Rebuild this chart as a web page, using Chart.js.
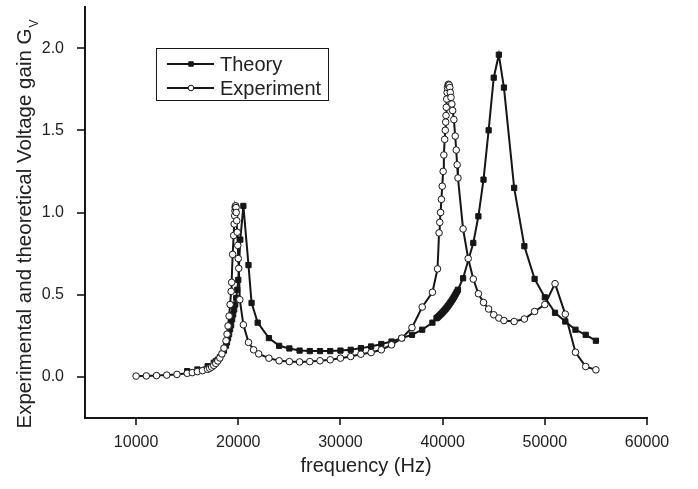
<!DOCTYPE html>
<html>
<head>
<meta charset="utf-8">
<script src="https://cdn.jsdelivr.net/npm/chart.js@4.4.0/dist/chart.umd.min.js"></script>
<style>
html,body{margin:0;padding:0;background:#fff;}
#wrap{width:698px;height:489px;}
</style>
</head>
<body>
<div id="wrap"><canvas id="c" width="698" height="489"></canvas></div>
<script>
// theory curve (filled squares)
const theoryFreq=[15000,16000,17000,17600,17800,18000,18200,18400,18600,18800,18900,19000,19100,19200,19300,19400,19500,19600,19700,19800,19900,20000,20200,20500,21000,21300,21900,
  23000,24000,25000,26000,27000,28000,29000,30000,31000,32000,33000,34000,35000,36000,37000,38000,39000,
  39400,39500,39600,39700,39800,39900,40000,40100,40200,40300,40400,40500,40600,40700,40800,40900,41000,41100,41200,41300,41400,41500,
  42000,43000,43500,44000,44500,45000,45500,46000,47000,48000,49000,50000,51000,52000,53000,54000,55000];
const theoryGain=[0.035,0.045,0.065,0.086,0.095,0.105,0.12,0.14,0.16,0.19,0.21,0.235,0.26,0.29,0.315,0.35,0.38,0.41,0.44,0.48,0.53,0.59,0.835,1.04,0.68,0.45,0.33,
  0.236,0.189,0.173,0.16,0.157,0.157,0.157,0.16,0.165,0.175,0.185,0.2,0.215,0.236,0.256,0.287,0.33,
  0.357,0.362,0.368,0.374,0.38,0.386,0.393,0.4,0.407,0.414,0.422,0.43,0.438,0.447,0.456,0.465,0.475,0.485,0.496,0.507,0.518,0.53,
  0.6,0.815,0.977,1.2,1.5,1.82,1.96,1.76,1.15,0.795,0.596,0.484,0.39,0.337,0.287,0.256,0.22];

// measured curve (open circles)
const expFreq=[10000,11000,12000,13000,14000,15000,15500,16000,16500,17000,17200,17400,17600,17800,18000,18200,18400,18600,18800,18900,19000,19100,19200,19300,19350,19450,19550,19600,19650,19680,19700,19720,19750,19780,19800,19850,19900,19950,20000,20050,20150,20500,
  21000,21500,22000,23000,24000,25000,26000,27000,28000,29000,30000,31000,32000,33000,34000,35000,36000,37000,38000,39000,
  39500,39650,39720,39800,39880,39960,40050,40120,40200,40260,40300,40330,40360,40400,40440,40480,40530,40580,40640,40700,40750,40820,40900,40980,41100,41230,41330,41420,41500,
  42000,42500,43000,43500,44000,44500,45000,45500,46000,47000,48000,49000,50000,51000,52000,53000,54000,55000];
const expGain=[0.005,0.006,0.008,0.011,0.015,0.022,0.026,0.032,0.038,0.046,0.052,0.06,0.07,0.082,0.097,0.115,0.14,0.175,0.22,0.26,0.31,0.37,0.44,0.52,0.575,0.745,0.86,0.93,0.98,1.01,1.03,1.04,1.04,1.03,1.0,0.95,0.88,0.8,0.72,0.66,0.47,0.317,
  0.21,0.165,0.14,0.114,0.098,0.093,0.091,0.093,0.098,0.104,0.114,0.124,0.138,0.148,0.165,0.195,0.236,0.3,0.425,0.515,
  0.657,0.876,0.94,1.0,1.08,1.16,1.25,1.35,1.445,1.5,1.55,1.59,1.64,1.69,1.73,1.76,1.775,1.78,1.775,1.76,1.73,1.7,1.66,1.62,1.565,1.465,1.38,1.29,1.21,
  0.9,0.72,0.595,0.506,0.453,0.413,0.378,0.358,0.343,0.337,0.352,0.398,0.44,0.567,0.382,0.15,0.063,0.043];

const xLabelValues=[10000,20000,30000,40000,50000,60000];
const yLabelValues=[0,0.5,1,1.5,2];

const ink='#161616';
const textInk='#222';
const fontFam='"Liberation Sans", Arial, sans-serif';

function toPoints(xs,ys){ return xs.map((x,i)=>({x:x,y:ys[i]})); }

// outward ticks: long at labelled values, short in between
const tickMarks={id:'tickMarks',afterDraw(chart){
  const {ctx,chartArea:a,scales:{x,y}}=chart;
  ctx.save(); ctx.strokeStyle=ink; ctx.lineWidth=1.6;
  x.ticks.forEach(t=>{
    const px=Math.round(x.getPixelForValue(t.value)); const len=t.label?7:4;
    ctx.beginPath(); ctx.moveTo(px,a.bottom); ctx.lineTo(px,a.bottom+len); ctx.stroke();
  });
  y.ticks.forEach(t=>{
    const py=Math.round(y.getPixelForValue(t.value)); const len=t.label?8:4;
    ctx.beginPath(); ctx.moveTo(a.left,py); ctx.lineTo(a.left-len,py); ctx.stroke();
  });
  ctx.restore();
}};

// y title with subscript V
const yTitle={id:'yTitle',afterDraw(chart){
  const {ctx,chartArea:a}=chart;
  const main='Experimental and theoretical Voltage gain G';
  ctx.save();
  ctx.translate(25,(a.top+a.bottom)/2+12);
  ctx.rotate(-Math.PI/2);
  ctx.fillStyle=textInk; ctx.textBaseline='middle'; ctx.textAlign='left';
  ctx.font='20.5px '+fontFam; const w1=ctx.measureText(main).width;
  ctx.font='12px '+fontFam; const w2=ctx.measureText('V').width;
  const start=-(w1+w2)/2;
  ctx.font='20.5px '+fontFam; ctx.fillText(main,start,0);
  ctx.font='12px '+fontFam; ctx.fillText('V',start+w1+1,10);
  ctx.restore();
}};

// boxed legend inside the plot, line-marker-line samples
const legendBox={id:'legendBox',afterDraw(chart){
  const {ctx,chartArea:a}=chart;
  const bx=a.left+71, by=a.top+41, bw=172, bh=52;
  ctx.save();
  ctx.fillStyle='#fff'; ctx.fillRect(bx,by,bw,bh);
  ctx.strokeStyle=ink; ctx.lineWidth=1; ctx.strokeRect(bx+0.5,by+0.5,bw,bh);
  const items=['Theory','Experiment'].map(l=>chart.data.datasets.find(d=>d.label===l));
  items.forEach((d,i)=>{
    const cy=by+16+i*24;
    ctx.strokeStyle=d.borderColor; ctx.lineWidth=d.borderWidth;
    ctx.beginPath(); ctx.moveTo(bx+11,cy); ctx.lineTo(bx+58,cy); ctx.stroke();
    ctx.fillStyle=d.pointBackgroundColor; ctx.strokeStyle=d.pointBorderColor; ctx.lineWidth=1;
    Chart.helpers.drawPoint(ctx,{pointStyle:d.pointStyle,radius:d.pointRadius*0.85,borderWidth:1,rotation:0},bx+35,cy);
    ctx.fillStyle=textInk; ctx.font='20px '+fontFam; ctx.textBaseline='middle'; ctx.textAlign='left';
    ctx.fillText(d.label,bx+64,cy+1);
  });
  ctx.restore();
}};

new Chart(document.getElementById('c'),{
  type:'scatter',
  data:{datasets:[
    {label:'Experiment',data:toPoints(expFreq,expGain),showLine:true,tension:0,
     borderColor:ink,borderWidth:2,pointStyle:'circle',pointRadius:3.3,pointBorderWidth:1,
     pointBackgroundColor:'#fff',pointBorderColor:ink},
    {label:'Theory',data:toPoints(theoryFreq,theoryGain),showLine:true,tension:0,
     borderColor:ink,borderWidth:2,pointStyle:'rect',pointRadius:3.7,pointBorderWidth:1,
     pointBackgroundColor:ink,pointBorderColor:ink}
  ]},
  options:{
    responsive:false,animation:false,devicePixelRatio:1,
    layout:{padding:{left:0,top:7,right:51,bottom:0},autoPadding:false},
    plugins:{legend:{display:false},tooltip:{enabled:false}},
    scales:{
      x:{type:'linear',position:'bottom',min:5000,max:60000,
        grid:{display:false},border:{display:true,color:ink,width:2},
        ticks:{stepSize:5000,maxTicksLimit:20,autoSkip:false,maxRotation:0,padding:6.5,color:textInk,
          font:{family:fontFam,size:16},
          callback:v=>xLabelValues.includes(v)?String(v):null},
        title:{display:true,text:'frequency (Hz)',color:textInk,font:{family:fontFam,size:20},padding:{top:0,bottom:11}},
        afterFit:s=>{s.height=71; s.paddingLeft=0; s.paddingRight=0;}},
      y:{type:'linear',position:'left',min:-0.25,max:2.25,
        grid:{display:false},border:{display:true,color:ink,width:2},
        ticks:{stepSize:0.25,maxTicksLimit:20,autoSkip:false,padding:13,color:textInk,
          font:{family:fontFam,size:16},
          callback:v=>yLabelValues.some(l=>Math.abs(l-v)<1e-6)?v.toFixed(1):null},
        afterFit:s=>{s.width=85; s.paddingTop=0; s.paddingBottom=0;}}
    }
  },
  plugins:[tickMarks,yTitle,legendBox]
});
</script>
</body>
</html>
